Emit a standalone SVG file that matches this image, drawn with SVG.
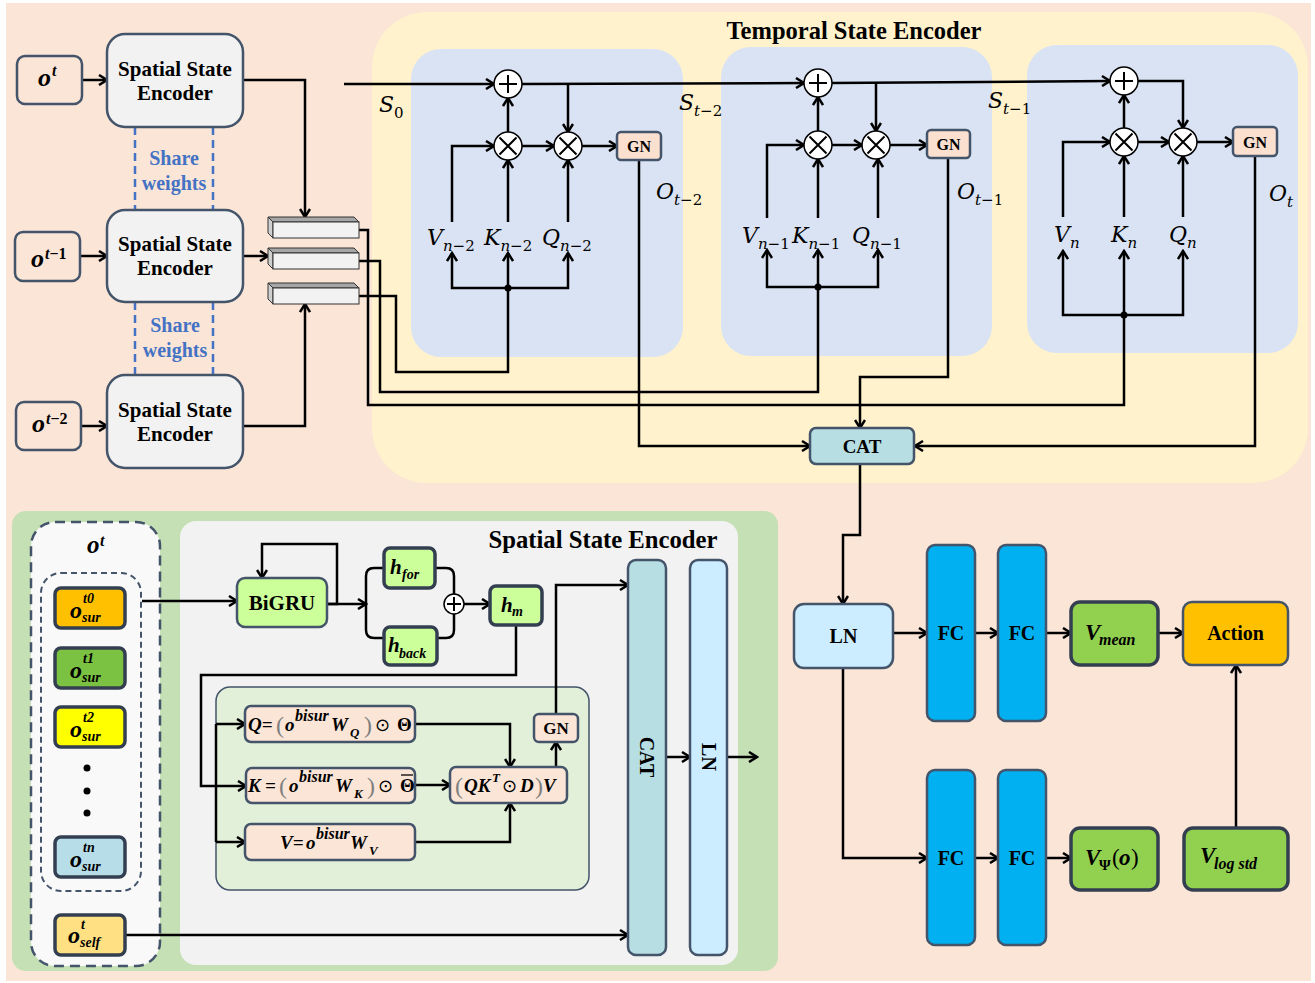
<svg xmlns="http://www.w3.org/2000/svg" width="1315" height="983" viewBox="0 0 1315 983">
<defs>
<marker id="ah" viewBox="0 0 12 12" refX="10" refY="6" markerWidth="12" markerHeight="12" markerUnits="userSpaceOnUse" orient="auto"><path d="M2,1 L10,6 L2,11" fill="none" stroke="#000" stroke-width="2.5"/></marker>
<style>
.c{fill:none;stroke:#000;stroke-width:2.5}
.a{marker-end:url(#ah)}
.nb{stroke:#44546A;stroke-width:2.5}
.db{stroke:#333F50;stroke-width:3.5}
.tb{font-family:"Liberation Serif","DejaVu Serif",serif;font-weight:bold;fill:#000}
.bi{font-family:"Liberation Serif","DejaVu Serif",serif;font-weight:bold;font-style:italic;fill:#000}
.mi{font-family:"Liberation Serif","DejaVu Serif",serif;font-style:italic;fill:#000}
.mt{font-family:"DejaVu Serif","Liberation Serif",serif;font-style:italic;fill:#000;font-size:22px}
.sb{font-size:15px}
.nu{font-style:normal}
.circ{fill:#fff;stroke:#000;stroke-width:1.5}
.sym{stroke:#000;stroke-width:2;fill:none}
.sw{font-family:"Liberation Serif","DejaVu Serif",serif;font-weight:bold;fill:#4472C4;font-size:20px}
.gp{font-style:normal;font-weight:normal;fill:#7F7F7F}
.bar1{fill:#A6A6A6;stroke:#333;stroke-width:1}
.bar2{fill:#D0D0D0;stroke:#333;stroke-width:1}
.bar3{fill:#F2F2F2;stroke:#333;stroke-width:1}
.so{font-size:24px}
.ss{font-size:14px}
</style>
</defs>

<g id="backgrounds">
<rect x="6" y="3" width="1305" height="978" fill="#FBE5D6"/>
<rect x="372" y="12" width="936" height="471" rx="55" fill="#FFF2CC"/>
<rect x="411" y="49" width="272" height="308" rx="30" fill="#DAE3F3"/>
<rect x="721" y="47" width="271" height="309" rx="30" fill="#DAE3F3"/>
<rect x="1027" y="45" width="271" height="308" rx="30" fill="#DAE3F3"/>
<rect x="12" y="511" width="766" height="460" rx="14" fill="#C5E0B4"/>
<rect x="180" y="521" width="558" height="444" rx="16" fill="#F2F2F2"/>
<rect x="31" y="522" width="129" height="444" rx="24" fill="#F9F9F9" stroke="#44546A" stroke-width="2.5" stroke-dasharray="10 6"/>
<rect x="41" y="573" width="100" height="318" rx="20" fill="none" stroke="#44546A" stroke-width="2" stroke-dasharray="6 4"/>
<rect x="216" y="687" width="373" height="203" rx="14" fill="#E2F0D9" stroke="#44546A" stroke-width="1.5"/>
<text class="tb" x="854" y="39" font-size="24.5" text-anchor="middle">Temporal State Encoder</text>
<text class="tb" x="603" y="548" font-size="24.7" text-anchor="middle">Spatial State Encoder</text>
</g>

<g id="share-weights">
<path d="M135,127 V210 M213,127 V210 M135,302 V375 M213,302 V375" stroke="#4472C4" stroke-width="2.5" stroke-dasharray="8 5" fill="none"/>
<text class="sw" x="174" y="165" text-anchor="middle">Share</text>
<text class="sw" x="174" y="190" text-anchor="middle">weights</text>
<text class="sw" x="175" y="332" text-anchor="middle">Share</text>
<text class="sw" x="175" y="357" text-anchor="middle">weights</text>
</g>

<g id="connectors">
<path class="c a" d="M82,80 H107"/>
<path class="c a" d="M80,256 H107"/>
<path class="c a" d="M81,426 H107"/>
<path class="c a" d="M243,80 H305 V217"/>
<path class="c a" d="M243,256 H268"/>
<path class="c a" d="M243,426 H305 V304"/>
<path class="c a" d="M344,84 H494"/>
<path class="c a" d="M522,84 L804,83"/>
<path class="c a" d="M568,84 V132"/>
<path class="c a" d="M832,83 L1110,81"/>
<path class="c a" d="M876,83 V131"/>
<path class="c a" d="M1138,81 H1183 V128"/>
<path class="c a" d="M508,132 V98"/>
<path class="c a" d="M522,146 H554"/>
<path class="c a" d="M582,146 H617"/>
<path class="c a" d="M452,222 V146 H494"/>
<path class="c a" d="M508,222 V160"/>
<path class="c a" d="M568,222 V160"/>
<path class="c a" d="M508,288 H452 V253"/>
<path class="c a" d="M508,288 H568 V253"/>
<path class="c a" d="M508,288 V253"/>
<path class="c a" d="M818,131 V97"/>
<path class="c a" d="M832,145 H862"/>
<path class="c a" d="M890,145 H927"/>
<path class="c a" d="M767,218 V145 H804"/>
<path class="c a" d="M818,218 V159"/>
<path class="c a" d="M878,218 V159"/>
<path class="c a" d="M818,287 H767 V250"/>
<path class="c a" d="M818,287 H878 V250"/>
<path class="c a" d="M818,287 V250"/>
<path class="c a" d="M1124,128 V95"/>
<path class="c a" d="M1138,142 H1169"/>
<path class="c a" d="M1197,142 H1233"/>
<path class="c a" d="M1063,217 V142 H1110"/>
<path class="c a" d="M1124,217 V156"/>
<path class="c a" d="M1183,217 V156"/>
<path class="c a" d="M1124,315 H1063 V251"/>
<path class="c a" d="M1124,315 H1183 V251"/>
<path class="c a" d="M1124,315 V251"/>
<path class="c" d="M359,296 H396 V372 H508 V288"/>
<path class="c" d="M359,261 H380 V392 H818 V287"/>
<path class="c" d="M359,230 H368 V405 H1124 V315"/>
<circle cx="508" cy="288" r="3.5" fill="#000"/>
<circle cx="818" cy="287" r="3.5" fill="#000"/>
<circle cx="1124" cy="315" r="3.5" fill="#000"/>
<path class="c a" d="M639,160 V446 H810"/>
<path class="c a" d="M948,158 V377 H860 V428"/>
<path class="c a" d="M1255,156 V446 H915"/>
<path class="c a" d="M860,464 V535 H843 V604"/>
<path class="c a" d="M893,633 H927"/>
<path class="c a" d="M975,633 H998"/>
<path class="c a" d="M1046,633 H1071"/>
<path class="c a" d="M1158,633 H1183"/>
<path class="c a" d="M843,668 V858 H927"/>
<path class="c a" d="M975,858 H998"/>
<path class="c a" d="M1046,858 H1071"/>
<path class="c a" d="M1236,828 V665"/>
<path class="c a" d="M142,601 H237"/>
<path class="c a" d="M327,604 H337 V544 H262 V578"/>
<path class="c a" d="M327,604 H366"/>
<path class="c" d="M384,568 H374 Q366,568 366,576 V630 Q366,638 374,638 H384"/>
<path class="c" d="M435,568 H446 Q454,568 454,576 V594 M437,638 H446 Q454,638 454,630 V614"/>
<path class="c a" d="M464,604 H490"/>
<path class="c a" d="M516,625 V675 H201 V786 H246"/>
<path class="c" d="M216,724 V842"/>
<path class="c a" d="M216,724 H245"/>
<path class="c a" d="M216,842 H245"/>
<path class="c a" d="M415,724 H510 V767"/>
<path class="c a" d="M415,785 H450"/>
<path class="c a" d="M415,842 H510 V803"/>
<path class="c a" d="M556,767 V742"/>
<path class="c a" d="M556,714 V585 H628"/>
<path class="c a" d="M125,935 H628"/>
<path class="c a" d="M666,757 H690"/>
<path class="c a" d="M727,757 H757"/>
</g>

<g id="obs-t">
<rect x="17" y="56" width="65" height="48" rx="8" fill="#FBE5D6" class="nb"/>
<text class="bi" font-size="26"><tspan x="38" y="86">o</tspan><tspan x="52" y="76" font-size="16">t</tspan></text>
</g>
<g id="obs-t1">
<rect x="15" y="232" width="65" height="49" rx="8" fill="#FBE5D6" class="nb"/>
<text class="bi" font-size="26"><tspan x="31" y="267">o</tspan><tspan x="45" y="259" font-size="16">t</tspan><tspan font-style="normal" font-size="16">−1</tspan></text>
</g>
<g id="obs-t2">
<rect x="16" y="402" width="65" height="48" rx="8" fill="#FBE5D6" class="nb"/>
<text class="bi" font-size="26"><tspan x="32" y="432">o</tspan><tspan x="46" y="424" font-size="16">t</tspan><tspan font-style="normal" font-size="16">−2</tspan></text>
</g>

<g id="encoder-1">
<rect x="107" y="34" width="136" height="93" rx="18" fill="#F2F2F2" class="nb"/>
<text class="tb" font-size="21" text-anchor="middle"><tspan x="175" y="76">Spatial State</tspan><tspan x="175" y="100">Encoder</tspan></text>
</g>
<g id="encoder-2">
<rect x="107" y="210" width="136" height="92" rx="18" fill="#F2F2F2" class="nb"/>
<text class="tb" font-size="21" text-anchor="middle"><tspan x="175" y="251">Spatial State</tspan><tspan x="175" y="275">Encoder</tspan></text>
</g>
<g id="encoder-3">
<rect x="107" y="375" width="136" height="93" rx="18" fill="#F2F2F2" class="nb"/>
<text class="tb" font-size="21" text-anchor="middle"><tspan x="175" y="417">Spatial State</tspan><tspan x="175" y="441">Encoder</tspan></text>
</g>

<g id="feature-bars">
<polygon class="bar1" points="268,217 354,217 359,222 273,222"/>
<polygon class="bar2" points="268,217 273,222 273,238 268,233"/>
<rect class="bar3" x="273" y="222" width="86" height="16"/>
<polygon class="bar1" points="268,248 354,248 359,253 273,253"/>
<polygon class="bar2" points="268,248 273,253 273,269 268,264"/>
<rect class="bar3" x="273" y="253" width="86" height="16"/>
<polygon class="bar1" points="268,283 354,283 359,288 273,288"/>
<polygon class="bar2" points="268,283 273,288 273,304 268,299"/>
<rect class="bar3" x="273" y="288" width="86" height="16"/>
</g>

<g id="temporal-labels">
<text class="mt"><tspan x="379" y="112">S</tspan><tspan y="118" class="sb nu">0</tspan></text>
<text class="mt"><tspan x="679" y="110">S</tspan><tspan y="116" class="sb">t</tspan><tspan class="sb nu">−2</tspan></text>
<text class="mt"><tspan x="988" y="108">S</tspan><tspan y="114" class="sb">t</tspan><tspan class="sb nu">−1</tspan></text>
<text class="mt"><tspan x="656" y="199">O</tspan><tspan y="205" class="sb">t</tspan><tspan class="sb nu">−2</tspan></text>
<text class="mt"><tspan x="957" y="199">O</tspan><tspan y="205" class="sb">t</tspan><tspan class="sb nu">−1</tspan></text>
<text class="mt"><tspan x="1269" y="201">O</tspan><tspan y="207" class="sb">t</tspan></text>
</g>

<g id="block-1">
<circle class="circ" cx="508" cy="84" r="14"/><path class="sym" d="M499,84 H517 M508,75 V93"/>
<circle class="circ" cx="508" cy="146" r="14"/><path class="sym" d="M499.5,137.5 L516.5,154.5 M516.5,137.5 L499.5,154.5"/>
<circle class="circ" cx="568" cy="146" r="14"/><path class="sym" d="M559.5,137.5 L576.5,154.5 M576.5,137.5 L559.5,154.5"/>
<rect x="617" y="132" width="44" height="28" rx="4" fill="#FBE0D0" class="nb"/>
<text class="tb" x="639" y="152" font-size="16" text-anchor="middle">GN</text>
<text class="mt"><tspan x="427" y="245">V</tspan><tspan y="251" class="sb">n</tspan><tspan class="sb nu">−2</tspan></text>
<text class="mt"><tspan x="484" y="245">K</tspan><tspan y="251" class="sb">n</tspan><tspan class="sb nu">−2</tspan></text>
<text class="mt"><tspan x="542" y="245">Q</tspan><tspan y="251" class="sb">n</tspan><tspan class="sb nu">−2</tspan></text>
</g>

<g id="block-2">
<circle class="circ" cx="818" cy="83" r="14"/><path class="sym" d="M809,83 H827 M818,74 V92"/>
<circle class="circ" cx="818" cy="145" r="14"/><path class="sym" d="M809.5,136.5 L826.5,153.5 M826.5,136.5 L809.5,153.5"/>
<circle class="circ" cx="876" cy="145" r="14"/><path class="sym" d="M867.5,136.5 L884.5,153.5 M884.5,136.5 L867.5,153.5"/>
<rect x="927" y="130" width="43" height="28" rx="4" fill="#FBE0D0" class="nb"/>
<text class="tb" x="948.5" y="150" font-size="16" text-anchor="middle">GN</text>
<text class="mt"><tspan x="742" y="243">V</tspan><tspan y="249" class="sb">n</tspan><tspan class="sb nu">−1</tspan></text>
<text class="mt"><tspan x="792" y="243">K</tspan><tspan y="249" class="sb">n</tspan><tspan class="sb nu">−1</tspan></text>
<text class="mt"><tspan x="852" y="243">Q</tspan><tspan y="249" class="sb">n</tspan><tspan class="sb nu">−1</tspan></text>
</g>

<g id="block-3">
<circle class="circ" cx="1124" cy="81" r="14"/><path class="sym" d="M1115,81 H1133 M1124,72 V90"/>
<circle class="circ" cx="1124" cy="142" r="14"/><path class="sym" d="M1115.5,133.5 L1132.5,150.5 M1132.5,133.5 L1115.5,150.5"/>
<circle class="circ" cx="1183" cy="142" r="14"/><path class="sym" d="M1174.5,133.5 L1191.5,150.5 M1191.5,133.5 L1174.5,150.5"/>
<rect x="1233" y="127" width="44" height="29" rx="4" fill="#FBE0D0" class="nb"/>
<text class="tb" x="1255" y="148" font-size="16" text-anchor="middle">GN</text>
<text class="mt"><tspan x="1054" y="242">V</tspan><tspan y="248" class="sb">n</tspan></text>
<text class="mt"><tspan x="1111" y="242">K</tspan><tspan y="248" class="sb">n</tspan></text>
<text class="mt"><tspan x="1169" y="242">Q</tspan><tspan y="248" class="sb">n</tspan></text>
</g>

<g id="cat-top">
<rect x="810" y="428" width="104" height="36" rx="6" fill="#B7DEE3" class="nb"/>
<text class="tb" x="862" y="453" font-size="19" text-anchor="middle">CAT</text>
</g>

<g id="ln-right">
<rect x="794" y="604" width="99" height="64" rx="10" fill="#CCECFF" class="nb"/>
<text class="tb" x="843.5" y="643" font-size="20" text-anchor="middle">LN</text>
</g>
<g id="fc-1"><rect x="927" y="545" width="48" height="176" rx="8" fill="#00B0F0" class="nb"/><text class="tb" x="951" y="640" font-size="20" text-anchor="middle">FC</text></g>
<g id="fc-2"><rect x="998" y="545" width="48" height="176" rx="8" fill="#00B0F0" class="nb"/><text class="tb" x="1022" y="640" font-size="20" text-anchor="middle">FC</text></g>
<g id="fc-3"><rect x="927" y="770" width="48" height="175" rx="8" fill="#00B0F0" class="nb"/><text class="tb" x="951" y="865" font-size="20" text-anchor="middle">FC</text></g>
<g id="fc-4"><rect x="998" y="770" width="48" height="175" rx="8" fill="#00B0F0" class="nb"/><text class="tb" x="1022" y="865" font-size="20" text-anchor="middle">FC</text></g>

<g id="v-mean">
<rect x="1071" y="602" width="87" height="63" rx="9" fill="#92D050" class="db"/>
<text class="bi" font-size="23"><tspan x="1085" y="640">V</tspan><tspan x="1099" y="645" font-size="16">mean</tspan></text>
</g>
<g id="action">
<rect x="1183" y="602" width="105" height="63" rx="9" fill="#FFC000" class="nb"/>
<text class="tb" x="1235.5" y="640" font-size="20" text-anchor="middle">Action</text>
</g>
<g id="v-psi">
<rect x="1071" y="828" width="87" height="62" rx="9" fill="#92D050" class="db"/>
<text class="bi" font-size="23"><tspan x="1085" y="865">V</tspan><tspan x="1099" y="870" font-size="15" font-style="normal">Ψ</tspan><tspan x="1112" y="865" font-style="normal" font-weight="normal">(</tspan><tspan x="1119" y="865">o</tspan><tspan x="1131" y="865" font-style="normal" font-weight="normal">)</tspan></text>
</g>
<g id="v-logstd">
<rect x="1184" y="828" width="104" height="62" rx="9" fill="#92D050" class="db"/>
<text class="bi" font-size="23"><tspan x="1200" y="863">V</tspan><tspan x="1214" y="869" font-size="16">log std</tspan></text>
</g>

<g id="obs-group">
<text class="bi" font-size="25"><tspan x="87" y="553">o</tspan><tspan x="100" y="546" font-size="16">t</tspan></text>
</g>
<g id="o-sur-0">
<rect x="55" y="588" width="70" height="40" rx="6" fill="#FFC000" class="db"/>
<text class="bi so" x="70" y="618">o</text><text class="bi ss" x="83" y="603">t0</text><text class="bi ss" x="82" y="622">sur</text>
</g>
<g id="o-sur-1">
<rect x="55" y="648" width="70" height="40" rx="6" fill="#7CC242" class="db"/>
<text class="bi so" x="70" y="678">o</text><text class="bi ss" x="83" y="663">t1</text><text class="bi ss" x="82" y="682">sur</text>
</g>
<g id="o-sur-2">
<rect x="55" y="707" width="70" height="40" rx="6" fill="#FFFF00" class="db"/>
<text class="bi so" x="70" y="737">o</text><text class="bi ss" x="83" y="722">t2</text><text class="bi ss" x="82" y="741">sur</text>
</g>
<g id="dots">
<circle cx="87" cy="768" r="3.5" fill="#000"/><circle cx="87" cy="791" r="3.5" fill="#000"/><circle cx="87" cy="813" r="3.5" fill="#000"/>
</g>
<g id="o-sur-n">
<rect x="55" y="837" width="70" height="40" rx="6" fill="#B7DEE8" class="db"/>
<text class="bi so" x="70" y="867">o</text><text class="bi ss" x="83" y="852">tn</text><text class="bi ss" x="82" y="871">sur</text>
</g>
<g id="o-self">
<rect x="55" y="915" width="70" height="40" rx="6" fill="#FFE083" class="db"/>
<text class="bi so" x="68" y="943">o</text><text class="bi ss" x="81" y="929">t</text><text class="bi ss" x="80" y="947">self</text>
</g>

<g id="bigru">
<rect x="237" y="578" width="90" height="49" rx="8" fill="#CCFF99" class="nb"/>
<text class="tb" x="282" y="610" font-size="21" text-anchor="middle">BiGRU</text>
</g>
<g id="h-for">
<rect x="384" y="548" width="51" height="40" rx="6" fill="#CCFF99" class="db"/>
<text class="bi" font-size="21"><tspan x="390" y="574">h</tspan><tspan x="402" y="579" font-size="14">for</tspan></text>
</g>
<g id="h-back">
<rect x="384" y="627" width="53" height="38" rx="6" fill="#CCFF99" class="db"/>
<text class="bi" font-size="21"><tspan x="388" y="652">h</tspan><tspan x="399" y="658" font-size="14">back</tspan></text>
</g>
<g id="sum-h">
<circle class="circ" cx="454" cy="604" r="10"/><path class="sym" d="M447,604 H461 M454,597 V611"/>
</g>
<g id="h-m">
<rect x="490" y="586" width="52" height="39" rx="6" fill="#CCFF99" class="db"/>
<text class="bi" font-size="21"><tspan x="501" y="612">h</tspan><tspan x="512" y="616" font-size="14">m</tspan></text>
</g>

<g id="q-box">
<rect x="245" y="706" width="170" height="36" rx="6" fill="#FBE5D6" class="nb"/>
<text class="bi" font-size="19"><tspan x="248" y="731">Q=</tspan><tspan x="276" y="733" font-size="24" class="gp">(</tspan><tspan x="285" y="731">o</tspan><tspan x="295" y="721" font-size="16">bisur</tspan><tspan x="331" y="731">W</tspan><tspan x="350" y="737" font-size="13">Q</tspan><tspan x="364" y="733" font-size="24" class="gp">)</tspan><tspan x="375" y="731" font-style="normal" font-weight="normal" font-family="DejaVu Sans" font-size="18">⊙</tspan><tspan x="397" y="731" font-style="normal">Θ</tspan></text>
</g>
<g id="k-box">
<rect x="246" y="768" width="169" height="35" rx="6" fill="#FBE5D6" class="nb"/>
<text class="bi" font-size="19"><tspan x="248" y="792">K</tspan><tspan x="265" y="792">=</tspan><tspan x="279" y="794" font-size="24" class="gp">(</tspan><tspan x="289" y="792">o</tspan><tspan x="299" y="782" font-size="16">bisur</tspan><tspan x="335" y="792">W</tspan><tspan x="354" y="798" font-size="13">K</tspan><tspan x="367" y="794" font-size="24" class="gp">)</tspan><tspan x="378" y="792" font-style="normal" font-weight="normal" font-family="DejaVu Sans" font-size="18">⊙</tspan><tspan x="400" y="792" font-style="normal">Θ</tspan></text>
<path d="M401,775 H413" stroke="#000" stroke-width="1.3"/>
</g>
<g id="v-box">
<rect x="245" y="824" width="170" height="36" rx="6" fill="#FBE5D6" class="nb"/>
<text class="bi" font-size="19"><tspan x="280" y="849">V=</tspan><tspan x="306" y="849">o</tspan><tspan x="316" y="839" font-size="16">bisur</tspan><tspan x="350" y="849">W</tspan><tspan x="369" y="855" font-size="13">V</tspan></text>
</g>
<g id="qkv-box">
<rect x="450" y="767" width="117" height="36" rx="6" fill="#FBE5D6" class="nb"/>
<text class="bi" font-size="19"><tspan x="455" y="794" font-size="24" class="gp">(</tspan><tspan x="464" y="792">QK</tspan><tspan x="492" y="782" font-size="13">T</tspan><tspan x="502" y="792" font-style="normal" font-weight="normal" font-family="DejaVu Sans" font-size="18">⊙</tspan><tspan x="520" y="792">D</tspan><tspan x="535" y="794" font-size="24" class="gp">)</tspan><tspan x="543" y="792">V</tspan></text>
</g>
<g id="gn-lower">
<rect x="534" y="714" width="44" height="28" rx="5" fill="#FBE5D6" class="nb"/>
<text class="tb" x="556" y="734" font-size="17" text-anchor="middle">GN</text>
</g>

<g id="cat-bar">
<rect x="628" y="560" width="38" height="395" rx="8" fill="#B7DEE3" class="nb"/>
<text class="tb" x="647" y="757" font-size="20" text-anchor="middle" dominant-baseline="central" transform="rotate(90 647 757)">CAT</text>
</g>
<g id="ln-bar">
<rect x="690" y="560" width="37" height="395" rx="8" fill="#CCECFF" class="nb"/>
<text class="tb" x="708.5" y="757" font-size="20" text-anchor="middle" dominant-baseline="central" transform="rotate(90 708.5 757)">LN</text>
</g>
</svg>
